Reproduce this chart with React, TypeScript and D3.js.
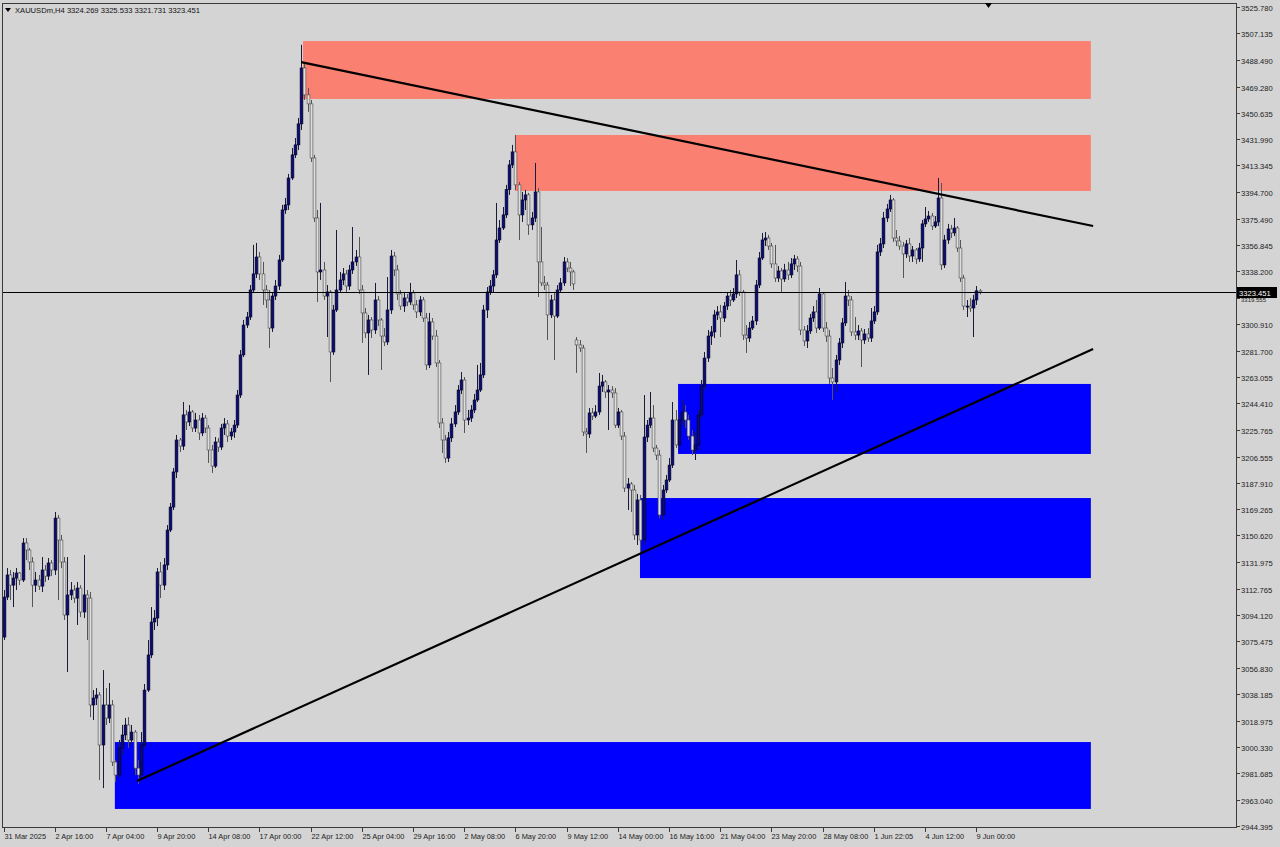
import React from 'react';
import * as d3 from 'd3';

// XAUUSDm H4 candles (open = previous close unless listed in gapOpens)
const closes = [
  3106.9, 3122.6, 3115.4, 3120.4, 3124.0, 3119.0, 3145.3, 3140.3, 3131.8, 3115.4,
  3119.0, 3114.7, 3126.1, 3121.8, 3131.1, 3126.1, 3163.0, 3147.4, 3131.8, 3094.2,
  3108.4, 3111.9, 3106.2, 3113.3, 3096.3, 3108.4, 3106.2, 3030.3, 3035.2, 3037.4,
  3001.9, 3030.3, 3021.0, 3030.3, 2989.8, 2980.6, 2999.7, 3009.0, 3016.1, 3005.4,
  3011.1, 2985.5, 2980.6, 3001.9, 3040.9, 3065.8, 3089.2, 3092.0, 3124.7, 3115.4,
  3129.7, 3154.5, 3170.8, 3195.7, 3218.4, 3214.1, 3236.2, 3231.2, 3238.3, 3226.9,
  3232.6, 3223.4, 3234.0, 3226.9, 3211.3, 3199.9, 3217.0, 3213.4, 3226.9, 3229.8,
  3221.2, 3224.1, 3229.0, 3250.3, 3278.8, 3300.0, 3305.7, 3324.9, 3336.3, 3348.3,
  3336.3, 3324.9, 3317.8, 3297.9, 3320.6, 3327.7, 3346.2, 3381.7, 3385.3, 3404.4,
  3420.8, 3427.9, 3442.8, 3482.5, 3463.4, 3457.0, 3418.6, 3376.0, 3337.7, 3339.1,
  3320.6, 3323.5, 3280.9, 3310.7, 3324.9, 3332.0, 3336.3, 3327.7, 3339.1, 3344.8,
  3348.3, 3324.9, 3308.6, 3294.4, 3303.6, 3296.5, 3317.8, 3303.6, 3292.2, 3288.0,
  3310.7, 3349.0, 3339.1, 3322.1, 3313.5, 3319.2, 3316.4, 3322.8, 3314.3, 3309.3,
  3317.8, 3305.0, 3271.7, 3302.2, 3292.2, 3273.1, 3230.5, 3218.4, 3205.6, 3219.9,
  3229.8, 3238.3, 3253.9, 3261.0, 3232.6, 3234.0, 3239.7, 3246.8, 3253.9, 3264.6,
  3310.7, 3323.5, 3327.7, 3335.6, 3360.4, 3368.9, 3378.2, 3396.1, 3413.7, 3422.9,
  3399.5, 3378.2, 3388.8, 3392.4, 3371.1, 3376.0, 3394.5, 3344.8, 3329.9, 3328.4,
  3307.2, 3317.8, 3306.4, 3324.9, 3329.9, 3344.8, 3340.5, 3337.7, 3329.2, 3285.9,
  3283.7, 3224.1, 3222.7, 3237.6, 3235.4, 3238.3, 3256.7, 3259.6, 3252.5, 3253.9,
  3251.8, 3229.0, 3238.3, 3221.2, 3184.3, 3187.2, 3182.9, 3151.0, 3175.8, 3147.4,
  3220.5, 3229.0, 3234.0, 3212.7, 3207.7, 3165.2, 3182.9, 3190.0, 3200.6, 3232.6,
  3214.9, 3232.6, 3238.3, 3232.6, 3221.2, 3211.3, 3214.9, 3236.2, 3256.7, 3276.6,
  3292.2, 3295.1, 3307.2, 3309.3, 3305.0, 3313.5, 3320.6, 3317.8, 3322.1, 3335.6,
  3323.5, 3292.9, 3290.8, 3297.9, 3302.9, 3328.4, 3347.6, 3360.4, 3361.8, 3356.1,
  3343.4, 3333.4, 3338.4, 3332.7, 3339.1, 3335.6, 3343.4, 3346.9, 3341.9, 3296.5,
  3288.7, 3295.8, 3305.0, 3309.3, 3297.9, 3322.1, 3297.9, 3292.2, 3262.4, 3259.6,
  3275.2, 3287.3, 3301.5, 3320.6, 3317.8, 3295.1, 3292.9, 3295.8, 3289.4, 3293.7,
  3290.8, 3302.9, 3309.3, 3351.9, 3357.6, 3376.0, 3382.4, 3388.8, 3361.8, 3359.7,
  3356.1, 3350.5, 3357.6, 3349.0, 3353.3, 3346.9, 3354.7, 3371.8, 3375.3, 3377.4,
  3370.3, 3373.2, 3390.2, 3342.7, 3360.4, 3368.2, 3365.4, 3368.9, 3354.7, 3333.4,
  3313.5, 3313.5, 3312.1, 3317.8, 3324.3, 3323.451,
];

const highs = [
  3111.9, 3127.5, 3126.1, 3124.7, 3127.5, 3124.7, 3148.8, 3148.8, 3141.7, 3135.3,
  3124.7, 3122.6, 3135.3, 3129.7, 3134.6, 3133.2, 3167.3, 3165.2, 3151.0, 3135.3,
  3135.3, 3117.6, 3115.4, 3117.6, 3115.4, 3136.8, 3111.9, 3110.5, 3040.9, 3042.3,
  3039.5, 3055.1, 3042.3, 3045.9, 3033.8, 2991.2, 3005.4, 3016.1, 3021.0, 3021.7,
  3016.1, 3012.5, 2991.2, 3011.1, 3045.2, 3076.4, 3099.8, 3097.7, 3127.5, 3131.8,
  3134.6, 3158.0, 3173.7, 3198.5, 3222.0, 3219.9, 3245.4, 3239.7, 3243.2, 3239.7,
  3237.6, 3236.2, 3237.6, 3236.2, 3229.0, 3214.9, 3220.5, 3219.9, 3229.8, 3234.0,
  3232.6, 3226.9, 3232.6, 3253.9, 3282.3, 3303.6, 3309.3, 3328.4, 3356.9, 3358.3,
  3351.9, 3344.8, 3328.4, 3324.9, 3323.5, 3332.0, 3349.8, 3385.3, 3390.2, 3407.3,
  3425.7, 3432.8, 3447.0, 3499.0, 3486.8, 3468.3, 3459.8, 3420.8, 3381.7, 3386.7,
  3344.8, 3328.4, 3324.9, 3314.3, 3367.5, 3337.7, 3340.5, 3339.1, 3342.7, 3369.6,
  3353.3, 3362.5, 3328.4, 3312.1, 3307.2, 3305.7, 3329.9, 3320.6, 3305.0, 3297.9,
  3334.1, 3353.3, 3351.9, 3342.7, 3324.9, 3323.5, 3322.1, 3329.9, 3324.9, 3317.8,
  3320.6, 3319.9, 3308.6, 3308.6, 3305.0, 3296.5, 3275.2, 3234.0, 3222.0, 3224.1,
  3234.0, 3243.2, 3257.4, 3266.7, 3263.1, 3239.7, 3243.2, 3251.1, 3271.7, 3273.1,
  3314.3, 3327.0, 3332.0, 3339.1, 3386.7, 3374.6, 3383.8, 3399.5, 3417.2, 3427.9,
  3435.0, 3401.6, 3394.5, 3395.9, 3393.8, 3380.3, 3415.1, 3397.3, 3369.6, 3334.8,
  3330.6, 3321.4, 3323.5, 3328.4, 3333.4, 3348.3, 3347.6, 3344.8, 3339.1, 3291.5,
  3289.4, 3285.9, 3226.9, 3241.1, 3241.1, 3243.2, 3266.0, 3264.6, 3261.0, 3257.4,
  3256.7, 3255.3, 3241.1, 3239.7, 3224.1, 3191.4, 3188.6, 3186.5, 3180.1, 3179.4,
  3250.3, 3232.6, 3252.5, 3243.2, 3214.9, 3211.3, 3186.5, 3193.6, 3205.6, 3245.4,
  3239.7, 3236.2, 3246.8, 3243.2, 3236.2, 3225.5, 3224.1, 3239.7, 3261.0, 3280.9,
  3296.5, 3299.3, 3310.7, 3313.5, 3314.3, 3316.4, 3323.5, 3324.9, 3326.3, 3346.2,
  3339.1, 3324.9, 3300.0, 3302.2, 3306.4, 3332.0, 3351.9, 3365.4, 3366.1, 3364.0,
  3358.3, 3356.9, 3341.9, 3340.5, 3343.4, 3344.8, 3347.6, 3349.8, 3349.0, 3344.8,
  3299.3, 3300.0, 3307.9, 3313.5, 3317.8, 3326.3, 3323.5, 3302.2, 3296.5, 3269.5,
  3278.8, 3290.8, 3305.0, 3330.6, 3324.9, 3320.6, 3305.7, 3300.0, 3297.9, 3297.2,
  3297.9, 3312.1, 3313.5, 3356.9, 3361.8, 3380.3, 3386.0, 3392.4, 3390.2, 3367.5,
  3363.2, 3359.0, 3360.4, 3361.8, 3356.1, 3354.7, 3358.3, 3374.6, 3383.8, 3381.0,
  3379.6, 3377.4, 3404.4, 3400.9, 3364.0, 3371.8, 3371.1, 3376.0, 3370.3, 3360.4,
  3335.6, 3317.8, 3319.2, 3321.4, 3327.7, 3325.533,
];

const lows = [
  3076.4, 3104.8, 3104.8, 3099.8, 3111.9, 3115.4, 3117.6, 3133.2, 3126.1, 3099.8,
  3110.5, 3111.9, 3110.5, 3117.6, 3119.0, 3121.8, 3122.6, 3104.8, 3127.5, 3090.6,
  3053.7, 3104.8, 3102.7, 3087.1, 3092.7, 3092.0, 3076.4, 3021.7, 3019.6, 3030.3,
  2977.0, 2971.3, 3016.1, 3017.5, 2987.0, 2975.6, 2978.4, 2994.8, 3005.4, 2999.7,
  3001.9, 2980.6, 2974.2, 2977.0, 2999.7, 3039.5, 3063.6, 3083.5, 3086.3, 3106.2,
  3111.9, 3126.1, 3153.1, 3168.7, 3191.4, 3209.9, 3211.3, 3225.5, 3228.3, 3224.1,
  3224.1, 3218.4, 3221.2, 3223.4, 3202.1, 3195.0, 3198.5, 3209.9, 3211.3, 3222.0,
  3217.0, 3218.4, 3219.9, 3226.9, 3248.2, 3277.3, 3297.9, 3303.6, 3323.5, 3333.4,
  3332.0, 3314.3, 3312.1, 3283.7, 3295.1, 3317.8, 3324.9, 3344.8, 3378.9, 3381.7,
  3403.0, 3418.6, 3424.3, 3438.5, 3459.8, 3451.3, 3415.8, 3373.2, 3316.4, 3332.0,
  3317.8, 3291.5, 3259.6, 3278.8, 3309.3, 3323.5, 3328.4, 3323.5, 3324.9, 3336.3,
  3342.0, 3322.1, 3287.3, 3290.8, 3264.6, 3290.8, 3293.7, 3299.3, 3268.1, 3285.1,
  3285.9, 3307.9, 3334.8, 3317.8, 3310.7, 3309.3, 3313.5, 3314.3, 3310.7, 3305.0,
  3306.4, 3302.2, 3268.1, 3269.5, 3289.4, 3270.2, 3226.9, 3209.2, 3202.1, 3202.8,
  3217.0, 3227.6, 3236.2, 3251.1, 3223.4, 3229.0, 3231.2, 3237.6, 3245.4, 3252.5,
  3262.4, 3305.0, 3321.4, 3322.8, 3333.4, 3358.3, 3367.5, 3376.0, 3392.4, 3411.5,
  3395.9, 3360.4, 3373.2, 3381.7, 3364.0, 3367.5, 3373.2, 3319.9, 3327.7, 3324.9,
  3289.4, 3305.0, 3275.2, 3305.0, 3323.5, 3327.7, 3337.7, 3327.7, 3324.9, 3266.0,
  3280.9, 3221.2, 3209.2, 3219.9, 3232.6, 3234.0, 3236.2, 3252.5, 3248.2, 3225.5,
  3248.2, 3226.9, 3226.9, 3218.4, 3181.5, 3168.7, 3167.3, 3147.4, 3143.9, 3138.2,
  3143.9, 3217.0, 3226.9, 3209.9, 3204.2, 3163.0, 3161.6, 3180.8, 3188.6, 3198.5,
  3212.7, 3211.3, 3229.0, 3226.9, 3218.4, 3207.7, 3204.2, 3211.3, 3234.0, 3253.9,
  3273.8, 3285.9, 3290.8, 3303.6, 3291.5, 3302.2, 3310.7, 3313.5, 3316.4, 3319.2,
  3320.6, 3289.4, 3280.2, 3288.0, 3296.5, 3300.0, 3326.3, 3346.2, 3356.1, 3353.3,
  3340.5, 3330.6, 3330.6, 3323.5, 3330.6, 3332.0, 3333.4, 3339.1, 3337.7, 3292.9,
  3285.1, 3283.7, 3293.7, 3302.2, 3294.4, 3296.5, 3295.1, 3288.0, 3258.2, 3246.8,
  3252.5, 3271.7, 3283.7, 3299.3, 3313.5, 3292.2, 3289.4, 3289.4, 3270.2, 3286.6,
  3288.0, 3288.0, 3300.8, 3307.2, 3349.0, 3354.7, 3373.2, 3380.3, 3359.0, 3356.1,
  3353.3, 3333.4, 3347.6, 3344.8, 3344.8, 3343.4, 3344.8, 3344.8, 3369.6, 3373.2,
  3367.5, 3368.9, 3370.3, 3339.1, 3340.5, 3357.6, 3361.8, 3363.2, 3351.9, 3330.6,
  3310.7, 3305.7, 3309.3, 3291.5, 3314.3, 3321.731,
];

// candles whose open is not the previous close: [bar index, open]
const gapOpens = [
  [0, 3078.5],
  [179, 3289.4],
  [305, 3324.269],
];

const priceTicks = [
  '3525.780', '3507.135', '3488.490', '3469.280', '3450.635', '3431.990', '3413.345',
  '3394.700', '3375.490', '3356.845', '3338.200', '3319.555', '3300.910', '3281.700',
  '3263.055', '3244.410', '3225.765', '3206.555', '3187.910', '3169.265', '3150.620',
  '3131.975', '3112.765', '3094.120', '3075.475', '3056.830', '3038.185', '3018.975',
  '3000.330', '2981.685', '2963.040', '2944.395',
];

// one label every 16 bars
const timeLabels = [
  '31 Mar 2025', '2 Apr 16:00', '7 Apr 04:00', '9 Apr 20:00', '14 Apr 08:00',
  '17 Apr 00:00', '22 Apr 12:00', '25 Apr 04:00', '29 Apr 16:00', '2 May 08:00',
  '6 May 20:00', '9 May 12:00', '14 May 00:00', '16 May 16:00', '21 May 04:00',
  '23 May 20:00', '28 May 08:00', '1 Jun 22:05', '4 Jun 12:00', '9 Jun 00:00',
];

// rectangles: [from bar, to bar, top price, bottom price, colour]
const zones = [
  [93.6, 339.8, 3501.6, 3460.5, '#fa8072'],
  [159.8, 339.8, 3434.9, 3395.2, '#fa8072'],
  [210.8, 339.8, 3258.2, 3208.5, '#0000ff'],
  [198.9, 339.8, 3177.2, 3120.4, '#0000ff'],
  [34.8, 339.8, 3004.0, 2956.5, '#0000ff'],
];

// trend lines: [bar1, price1, bar2, price2]
const trendLines = [
  [93.0, 3486.7, 340.5, 3370.3],
  [41.7, 2976.3, 340.5, 3283.0],
];

const symbol = 'XAUUSDm,H4';
const lastQuote = ['3324.269', '3325.533', '3321.731', '3323.451'];
const lastPrice = 3323.451;

const FONT = '"Liberation Sans", Arial, sans-serif';

export default function App() {
  const left = 2, top = 3, right = 1236, bottom = 827;
  const x = d3.scaleLinear().domain([0, 304]).range([3.5, 976.3]);
  const y = d3.scaleLinear().domain([2944.395, 3525.78]).range([826, 7]);
  const bodyW = 2.8;

  const candles = closes.map((c, i) => {
    const g = gapOpens.find((d) => d[0] === i);
    const o = g ? g[1] : closes[i - 1];
    const h = Math.max(highs[i], o, c);
    const l = Math.min(lows[i], o, c);
    return { i, o, c, h, l, up: c >= o };
  });

  const line = d3.line<number[]>().x((d) => x(d[0])).y((d) => y(d[1]));
  const py = Math.round(y(lastPrice)) + 0.5;

  return (
    <svg
      width={1280}
      height={847}
      style={{ position: 'absolute', left: 0, top: 0, display: 'block' }}
      fontFamily={FONT}
    >
      <defs>
        <clipPath id="plot">
          <rect x={left} y={top} width={right - left} height={bottom - top} />
        </clipPath>
      </defs>
      <rect width={1280} height={847} fill="#d4d4d4" />

      <g clipPath="url(#plot)">
        {zones.map((z, k) => (
          <rect
            key={k}
            x={x(z[0] as number)}
            y={y(z[2] as number)}
            width={x(z[1] as number) - x(z[0] as number)}
            height={y(z[3] as number) - y(z[2] as number)}
            fill={z[4] as string}
          />
        ))}

        {candles.map((d) => {
          const cx = Math.round(x(d.i)) + 0.5;
          const yTop = y(Math.max(d.o, d.c));
          const yBot = y(Math.min(d.o, d.c));
          return (
            <g key={d.i}>
              <line
                x1={cx}
                x2={cx}
                y1={y(d.h)}
                y2={y(d.l)}
                stroke={d.up ? '#1a1a3a' : '#555'}
                strokeWidth={1}
              />
              <rect
                x={cx - bodyW / 2}
                y={yTop}
                width={bodyW}
                height={Math.max(1, yBot - yTop)}
                fill={d.up ? '#0c0c72' : '#dedede'}
                stroke={d.up ? '#00002a' : '#4a4a4a'}
                strokeWidth={0.6}
              />
            </g>
          );
        })}

        <line x1={left} x2={right} y1={py} y2={py} stroke="#000" strokeWidth={1} />

        {trendLines.map((t, k) => (
          <path
            key={k}
            d={line([[t[0], t[1]], [t[2], t[3]]]) || ''}
            stroke="#000"
            strokeWidth={2.2}
            fill="none"
          />
        ))}
      </g>

      {/* frame */}
      <rect
        x={left + 0.5}
        y={top + 0.5}
        width={right - left}
        height={bottom - top}
        fill="none"
        stroke="#3a3a3a"
        strokeWidth={1}
      />

      {/* price axis (the 3319.555 tick sits under the current-price box, as in MT4) */}
      {priceTicks.map((t) => {
        const ty = Math.round(y(+t)) + 0.5;
        const hidden = Math.abs(ty - py) < 10;
        return (
          <g key={t}>
            <line x1={right + 0.5} x2={right + 4} y1={ty} y2={ty} stroke="#3a3a3a" />
            <text x={right + 5} y={ty + 3} fontSize={hidden ? 6 : 7.6} fill="#222">
              {t}
            </text>
          </g>
        );
      })}
      <rect x={right + 1} y={py - 5.5} width={40} height={11} fill="#000" />
      <text x={right + 3} y={py + 3} fontSize={7.6} fill="#fff">
        {lastQuote[3]}
      </text>

      {/* time axis */}
      {timeLabels.map((t, k) => {
        const tx = Math.round(x(k * 16)) + 0.5;
        return (
          <g key={t}>
            <line x1={tx} x2={tx} y1={bottom} y2={bottom + 5} stroke="#3a3a3a" />
            <text x={tx} y={839} fontSize={7.4} fill="#222">
              {t}
            </text>
          </g>
        );
      })}

      {/* header */}
      <path d="M5,8 L11,8 L8,12 Z" fill="#000" />
      <text x={15} y={13} fontSize={7.6} fill="#111">
        {symbol + '  ' + lastQuote.join(' ')}
      </text>
      <path d="M985,3 L992,3 L988.5,8 Z" fill="#000" />
    </svg>
  );
}
